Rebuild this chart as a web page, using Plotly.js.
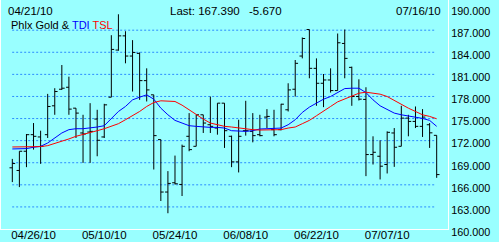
<!DOCTYPE html>
<html><head><meta charset="utf-8">
<script src="https://cdn.plot.ly/plotly-3.0.1.min.js"></script>
<style>html,body{margin:0;padding:0;background:#99FFFF;overflow:hidden}</style>
</head><body><div id="chart" style="width:499px;height:242px"></div>
<script>
const dates = ['04/21/10','04/22/10','04/23/10','04/26/10','04/27/10','04/28/10','04/29/10','04/30/10',
 '05/03/10','05/04/10','05/05/10','05/06/10','05/07/10','05/10/10','05/11/10','05/12/10','05/13/10','05/14/10',
 '05/17/10','05/18/10','05/19/10','05/20/10','05/21/10','05/24/10','05/25/10','05/26/10','05/27/10','05/28/10',
 '06/01/10','06/02/10','06/03/10','06/04/10','06/07/10','06/08/10','06/09/10','06/10/10','06/11/10',
 '06/14/10','06/15/10','06/16/10','06/17/10','06/18/10','06/21/10','06/22/10','06/23/10','06/24/10','06/25/10',
 '06/28/10','06/29/10','06/30/10','07/01/10','07/02/10','07/06/10','07/07/10','07/08/10','07/09/10',
 '07/12/10','07/13/10','07/14/10','07/15/10','07/16/10'];
const openVals = [168.31,167.95,170.56,172.81,172.50,172.81,176.73,178.98,179.25,176.41,173.04,173.17,174.93,172.50,
 177.90,184.30,186.23,183.49,183.85,180.15,178.22,172.14,165.02,166.28,166.05,172.59,171.23,175.51,174.16,173.71,
 177.09,172.59,169.12,173.35,173.26,172.81,175.20,173.49,173.49,176.19,178.98,183.49,187.09,181.82,179.79,180.24,
 178.80,185.20,181.95,177.99,177.60,170.11,169.88,168.76,173.04,171.23,175.06,174.61,173.94,174.16,172.72];
const highVals = [169.52,170.56,172.90,174.39,173.35,178.35,179.12,182.27,180.69,176.41,175.51,177.09,176.19,177.00,
 186.32,189.16,186.86,185.65,183.98,181.82,178.22,172.14,167.86,169.97,171.46,175.74,175.51,175.51,177.99,177.09,
 177.09,172.68,174.84,177.41,175.74,175.51,176.28,176.19,177.00,179.79,182.95,186.01,187.09,183.17,181.05,181.82,
 186.55,187.09,182.05,180.33,179.25,172.59,172.05,173.26,173.71,176.73,175.51,176.64,176.28,174.39,172.72];
const lowVals = [166.37,165.69,168.40,170.78,168.85,172.36,175.51,178.89,175.51,172.36,168.98,168.98,169.88,172.36,
 177.90,184.21,182.50,178.67,177.54,177.32,168.08,163.80,162.14,166.05,164.48,170.56,171.23,173.04,173.04,172.81,
 171.01,168.40,167.68,172.68,171.77,172.59,173.71,172.59,173.40,175.96,177.99,183.17,180.47,176.73,176.55,178.53,
 178.80,180.47,176.73,177.45,167.18,168.76,166.73,167.54,168.44,171.23,172.59,173.71,172.50,171.01,166.95];
const closeVals = [168.89,170.56,172.81,172.59,171.23,176.64,178.67,179.12,176.28,175.74,172.90,173.26,172.05,176.86,
 184.39,186.23,183.49,183.98,180.15,178.89,172.68,165.02,166.19,166.14,171.23,170.78,175.51,174.39,173.94,177.09,
 173.35,169.12,172.59,173.35,172.68,172.68,175.29,172.81,176.95,178.89,182.50,185.87,181.82,179.79,180.24,178.80,
 185.29,183.17,177.99,177.63,170.11,170.42,168.53,173.13,171.10,175.06,174.61,173.94,175.20,173.06,167.39];
const tdiVals = [170.87,170.87,170.92,171.10,171.23,171.68,172.36,173.04,173.49,173.62,173.62,173.71,173.85,174.03,
 175.06,175.96,176.64,177.54,177.90,178.22,177.63,176.41,175.51,174.75,174.39,174.03,173.94,173.85,173.80,173.80,
 173.71,173.35,173.26,173.26,173.35,173.58,173.62,173.62,173.71,174.16,174.84,175.83,176.55,177.09,177.63,177.99,
 178.53,179.07,179.12,179.12,178.53,177.54,176.73,176.19,175.74,175.51,175.38,175.20,175.02,174.75,173.94];
const tslVals = [171.14,171.14,171.14,171.14,171.19,171.32,171.59,171.91,172.23,172.59,172.81,173.13,173.35,173.62,
 173.94,174.30,174.84,175.38,175.96,176.64,177.18,177.41,177.41,177.32,176.82,176.19,175.51,174.93,174.39,174.12,
 173.94,173.85,173.71,173.58,173.49,173.44,173.44,173.49,173.49,173.71,173.85,174.30,174.75,175.38,175.96,176.64,
 177.27,177.68,178.13,178.44,178.58,178.49,178.31,177.99,177.45,176.86,176.41,175.96,175.51,175.29,174.97];
const xTickLabels = ['04/26/10','05/10/10','05/24/10','06/08/10','06/22/10','07/07/10'];
const yTicks = [160,163,166,169,172,175,178,181,184,187,190];
const startLabel = '04/21/10';
const endLabel = '07/16/10';
const lastLabel = 'Last: 167.390';
const changeLabel = '-5.670';

const font = {family:'"Liberation Sans", Arial, sans-serif', size:11, color:'#000000'};
const traces = [
  {type:'ohlc', x:dates, open:openVals, high:highVals, low:lowVals, close:closeVals,
   increasing:{line:{color:'#000000', width:1}}, decreasing:{line:{color:'#000000', width:1}},
   tickwidth:0.4, hoverinfo:'skip', showlegend:false},
  {type:'scatter', mode:'lines', x:dates, y:tdiVals, line:{color:'#0000FF', width:1}, hoverinfo:'skip', showlegend:false},
  {type:'scatter', mode:'lines', x:dates, y:tslVals, line:{color:'#FF0000', width:1}, hoverinfo:'skip', showlegend:false}
];
const gridShapes = yTicks.slice(1, -1).map(v => ({type:'line', xref:'paper', yref:'y', x0:0.025, x1:0.97, y0:v, y1:v,
  line:{color:'#2A8CFF', width:1, dash:'2px,2px'}, layer:'below'}));
const layout = {
  width:499, height:242, margin:{l:1, r:51, t:0, b:13, pad:0},
  paper_bgcolor:'#99FFFF', plot_bgcolor:'#99FFFF', font:font, showlegend:false,
  xaxis:{type:'category', categoryorder:'array', categoryarray:dates, range:[-1.6, 61.6],
    tickvals:xTickLabels, ticktext:xTickLabels, ticks:'', showgrid:false, zeroline:false,
    showline:true, linecolor:'#FFFFFF', linewidth:1, rangeslider:{visible:false}, fixedrange:true,
    ticklabelstandoff:-5,
    tickfont:{family:font.family, size:11.5, color:'#000000'}},
  yaxis:{side:'right', range:[160, 191.1], tickvals:yTicks, ticktext:yTicks.map(v => v.toFixed(3)),
    ticks:'', showgrid:false, zeroline:false, showline:true, mirror:true, linecolor:'#FFFFFF', linewidth:1,
    ticklabelshift:3, fixedrange:true, tickfont:{family:font.family, size:10.8, color:'#000000'}},
  shapes: gridShapes,
  annotations:[
    {xref:'paper', yref:'paper', x:0.012, y:0.95, xanchor:'left', yanchor:'middle', text:startLabel, showarrow:false, font:{size:11.5}},
    {xref:'paper', yref:'paper', x:0.018, y:0.893, xanchor:'left', yanchor:'middle', showarrow:false, font:{size:11},
     text:'Phlx Gold &amp; <span style="color:#0000FF">TDI</span> <span style="color:#FF0000">TSL</span>'},
    {xref:'paper', yref:'paper', x:0.374, y:0.95, xanchor:'left', yanchor:'middle', text:lastLabel, showarrow:false, font:{size:11.5}},
    {xref:'paper', yref:'paper', x:0.551, y:0.95, xanchor:'left', yanchor:'middle', text:changeLabel, showarrow:false, font:{size:11.5}},
    {xref:'paper', yref:'paper', x:0.988, y:0.95, xanchor:'right', yanchor:'middle', text:endLabel, showarrow:false, font:{size:11.5}}
  ]
};
Plotly.newPlot('chart', traces, layout, {staticPlot:true, displayModeBar:false});
</script></body></html>
